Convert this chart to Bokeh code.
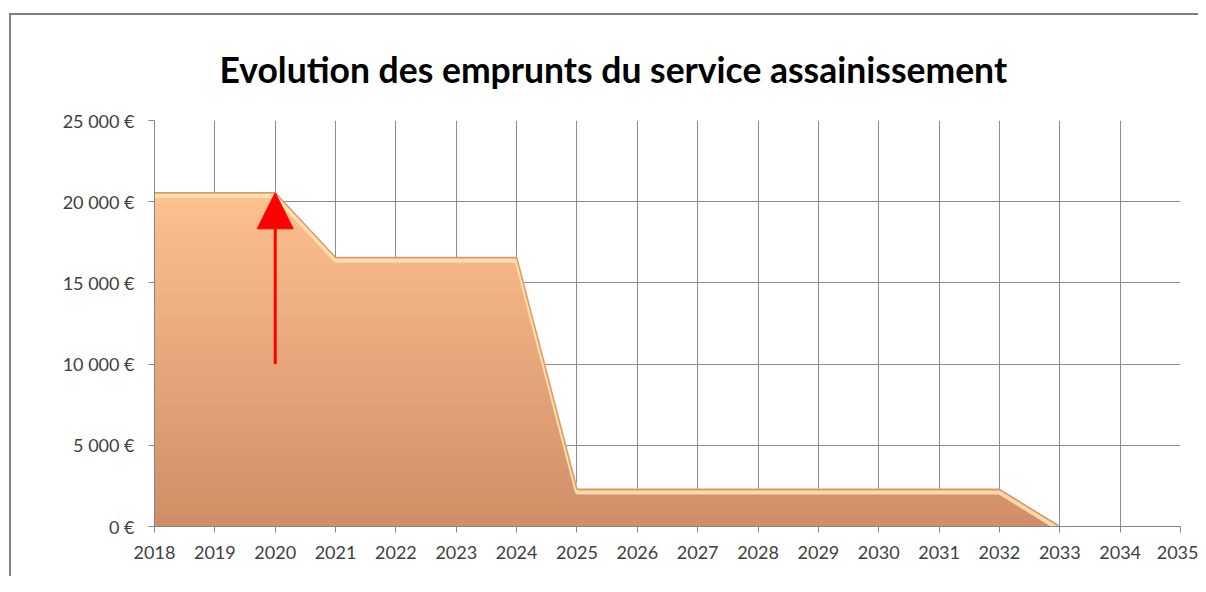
import numpy as np
from bokeh.plotting import figure
from bokeh.models import FixedTicker, Arrow, NormalHead
from bokeh.embed import file_html
from bokeh.resources import INLINE

# ---- data ----
years = [2018, 2019, 2020, 2021, 2022, 2023, 2024, 2025, 2026, 2027,
         2028, 2029, 2030, 2031, 2032, 2033]
amounts = [20550, 20550, 20550, 16570, 16570, 16570, 16570, 2290, 2290,
           2290, 2290, 2290, 2290, 2290, 2290, 0]
axis_years = list(range(2018, 2036))
y_ticks = [0, 5000, 10000, 15000, 20000, 25000]
title_text = "Evolution des emprunts du service assainissement"
arrow_year = 2020
arrow_from = 10000
arrow_to = 20550

FONT = "Lato"

p = figure(width=1187, height=561, output_backend="svg", toolbar_location=None,
           x_range=(2018, 2035), y_range=(0, 25000),
           min_border_left=143, min_border_right=20, min_border_top=94,
           min_border_bottom=52)
p.outline_line_color = None
p.background_fill_color = "white"
p.border_fill_color = "white"
p.styles = {"border-left": "2px solid #7f7f7f", "border-top": "2px solid #7f7f7f",
            "margin-left": "9px", "margin-top": "13px",
            "box-sizing": "content-box"}

p.title.text = title_text
p.title.text_font = FONT
p.title.text_font_size = "35.5px"
p.title.text_font_style = "bold"
p.title.text_color = "#000000"
p.title.align = "left"
p.title.offset = 65
p.title.vertical_align = "bottom"
p.title.text_line_height = 0.6
p.title.standoff = 60

# ---- gradient area: stacked clipped bands ----
xs_d = np.array(years, dtype=float)
ys_d = np.array(amounts, dtype=float)
top_c = np.array([0xFD, 0xC0, 0x8F])
bot_c = np.array([0xD0, 0x8D, 0x67])
ymax = ys_d.max()
nb = 30
levels = np.linspace(ymax, 0, nb + 1)[:-1]
for lev in levels:
    pts = list(xs_d)
    for i in range(len(xs_d) - 1):
        f0, f1 = ys_d[i], ys_d[i + 1]
        if (f0 - lev) * (f1 - lev) < 0:
            pts.append(xs_d[i] + (lev - f0) / (f1 - f0) * (xs_d[i + 1] - xs_d[i]))
    pts = np.array(sorted(pts))
    yy = np.clip(np.interp(pts, xs_d, ys_d), 0, lev)
    t = lev / ymax
    c = (bot_c + (top_c - bot_c) * t).astype(int)
    col = "#%02x%02x%02x" % tuple(c)
    p.varea(x=pts, y1=0, y2=yy, fill_color=col)

# bevel edges
p.line(xs_d, ys_d - 200, line_color="#FFE2AE", line_width=4, line_alpha=0.9)
p.line(xs_d, ys_d, line_color="#D99A70", line_width=1.5)

# ---- axes ----
p.xaxis.ticker = FixedTicker(ticks=axis_years)
p.yaxis.ticker = FixedTicker(ticks=y_ticks)
p.yaxis.major_label_overrides = {t: ("{:,}".format(t).replace(",", " ") + " €") for t in y_ticks}
p.xgrid.ticker = FixedTicker(ticks=axis_years)
p.ygrid.ticker = FixedTicker(ticks=y_ticks)
for g in (p.xgrid, p.ygrid):
    g.grid_line_color = "#8c8c8c"
    g.grid_line_width = 1
for ax in (p.xaxis, p.yaxis):
    ax.axis_line_color = "#868686"
    ax.major_tick_line_color = "#868686"
    ax.major_tick_out = 6
    ax.major_tick_in = 0
    ax.minor_tick_line_color = None
    ax.major_label_text_font = FONT
    ax.major_label_text_font_size = "18px"
    ax.major_label_text_color = "#404040"
p.yaxis.major_label_standoff = 14
p.xaxis.major_label_standoff = 13

# ---- arrow ----
p.add_layout(Arrow(end=NormalHead(size=36, fill_color="#FF0000", line_color="#FF0000"),
                   x_start=arrow_year, y_start=arrow_from,
                   x_end=arrow_year, y_end=arrow_to,
                   line_color="#FF0000", line_width=3))

open("out.html", "w").write(file_html(p, INLINE))
